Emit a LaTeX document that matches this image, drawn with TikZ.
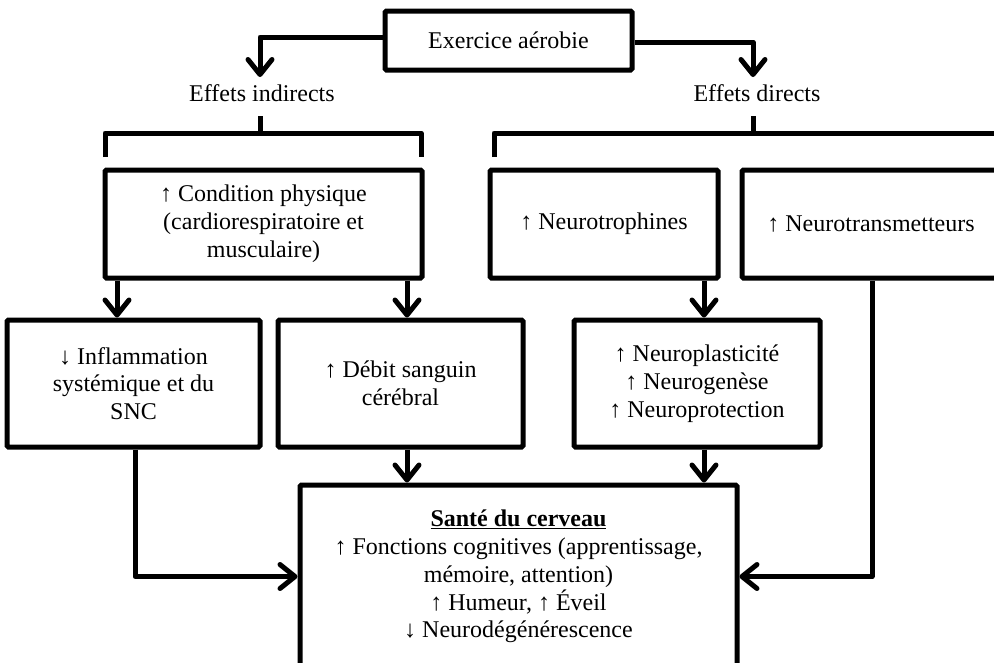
\documentclass[tikz,border=0pt]{standalone}
\usepackage{fontspec}
\setmainfont{Liberation Serif}
\usetikzlibrary{arrows.meta}
\begin{document}
\begin{tikzpicture}[x=1pt,y=-1pt,
  every node/.style={font=\fontsize{24}{27.8}\selectfont},
  box/.style={draw, line width=5pt, rounded corners=1.5pt, inner sep=0pt, align=center},
  conn/.style={line width=5pt, line join=round},
  arr/.style={conn, -{Straight Barb[length=15pt,width=24pt,line join=round,line cap=round]}}
]
\path[use as bounding box, clip] (0,0) rectangle (994,662);
% boxes
\node[box, minimum width=247pt, minimum height=59pt] (ex) at (508.5,40.5) {Exercice aérobie};
\node[anchor=base] (indir) at (262,101) {Effets indirects};
\node[anchor=base] (dir) at (757,101) {Effets directs};
\node[box, minimum width=317pt, minimum height=108pt] (cond) at (263.5,224) {↑ Condition physique\\(cardiorespiratoire et\\musculaire)};
\node[box, minimum width=228pt, minimum height=108pt] (ntroph) at (604,224) {↑ Neurotrophines};
\node[box, minimum width=258pt, minimum height=108pt] (ntrans) at (871,224) {↑ Neurotransmetteurs};
\node[box, minimum width=253pt, minimum height=127pt] (infl) at (133.5,383.5) {↓ Inflammation\\systémique et du\\SNC};
\node[box, minimum width=245pt, minimum height=127pt] (debit) at (400.5,383.5) {↑ Débit sanguin\\cérébral};
\node[box, minimum width=246pt, minimum height=127pt] (nplast) at (697,383.5) {↑ Neuroplasticité\\↑ Neurogenèse\\↑ Neuroprotection};
\node[box, minimum width=437pt, minimum height=183pt] (sante) at (518.5,576.5) {\underline{\textbf{Santé du cerveau}}\\↑ Fonctions cognitives (apprentissage,\\mémoire, attention)\\↑ Humeur, ↑ Éveil\\↓ Neurodégénérescence};
% top connectors
\coordinate (tl) at (260,77);
\coordinate (tr) at (753,77);
\draw[arr] ([yshift=3.5pt]ex.west) -| (tl);
\draw[arr] ([yshift=-1.5pt]ex.east) -| (tr);
% brackets
\coordinate (ti) at (260,116);
\coordinate (td) at (753,116);
\draw[conn] (105,157) -- (105,133) -- (421,133) -- (421,157);
\draw[conn] (494,157) -- (494,133) -- (1000,133) -- (1000,157);
\draw[conn] (ti) -- (260,133);
\draw[conn] (td) -- (753,133);
% arrows between boxes
\draw[arr] ([xshift=-146.5pt]cond.south) -- ([xshift=-146.5pt]cond.south |- infl.north);
\draw[arr] ([xshift=143.5pt]cond.south) -- ([xshift=143.5pt]cond.south |- debit.north);
\draw[arr] ([xshift=100pt]ntroph.south) -- ([xshift=100pt]ntroph.south |- nplast.north);
\draw[arr] ([xshift=6.5pt]debit.south) -- ([xshift=6.5pt]debit.south |- sante.north);
\draw[arr] ([xshift=7pt]nplast.south) -- ([xshift=7pt]nplast.south |- sante.north);
\draw[arr] ([xshift=1.5pt]infl.south) |- (sante.west);
\draw[arr] ([xshift=1pt]ntrans.south) |- (sante.east);
\end{tikzpicture}
\end{document}
